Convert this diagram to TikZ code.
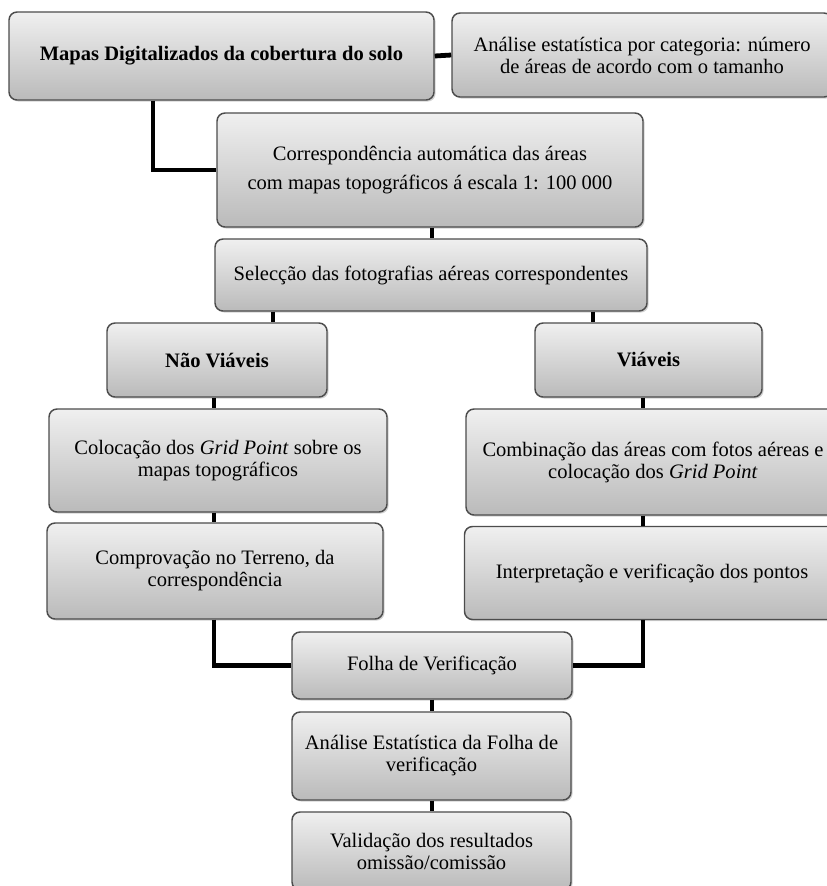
\documentclass[tikz,border=0pt]{standalone}
\usepackage{fontspec}
\setmainfont{Liberation Serif}
\usetikzlibrary{shadows}
\tikzset{
  box/.style={draw=black!70, line width=1.1pt, rounded corners=6pt,
    top color=black!6, bottom color=black!27, align=center, inner sep=2pt,
    drop shadow={opacity=0.35, shadow xshift=1.2pt, shadow yshift=-1.2pt}},
  sz/.style 2 args={minimum width=#1*0.75pt, minimum height=#2*0.75pt},
  link/.style={line width=3.6pt}
}

\begin{document}
\begin{tikzpicture}[x=0.75pt, y=-0.75pt, font=\fontsize{15.4}{16.5}\selectfont]
    \useasboundingbox (0,0) rectangle (826,886);

    % Top row
    \node[box, sz={425}{88}] (mapas) at (221.5,56) {\textbf{Mapas Digitalizados da cobertura do solo}};
    \node[box, sz={380}{84}] (analise) at (642,55)
      {Análise estatística por categoria: número\\de áreas de acordo com o tamanho};

    % Middle trunk
    \node[box, sz={426}{114}] (corresp) at (430,170)
      {Correspondência automática das áreas\\[5pt]com mapas topográficos á escala 1: 100 000};
    \node[box, sz={432}{72}] (seleccao) at (431,275) {Selecção das fotografias aéreas correspondentes};

    % Left branch
    \node[box, sz={220}{74}] (naoviaveis) at (217,360) {\textbf{Não Viáveis}};
    \node[box, sz={338}{103}] (colocacao) at (218,460.5)
      {Colocação dos \textit{Grid Point} sobre os\\mapas topográficos};
    \node[box, sz={336}{96}] (comprovacao) at (215,571)
      {Comprovação no Terreno, da\\correspondência};

    % Right branch
    \node[box, sz={227}{74}] (viaveis) at (648.5,360) {\textbf{Viáveis}};
    \node[box, sz={374}{106}] (combinacao) at (653,462)
      {Combinação das áreas com fotos aéreas e\\colocação dos \textit{Grid Point}};
    \node[box, sz={375}{93}] (interpretacao) at (652,573)
      {Interpretação e verificação dos pontos};

    % Bottom trunk
    \node[box, sz={280}{67}] (folha) at (432,665.5) {Folha de Verificação};
    \node[box, sz={279}{88}] (analiseest) at (431.5,756)
      {Análise Estatística da Folha de\\verificação};
    \node[box, sz={279}{78}] (validacao) at (431.5,851)
      {Validação dos resultados\\omissão/comissão};

    % Columns of the connectors
    \coordinate (cA) at (153,0);
    \coordinate (cM) at (432,0);
    \coordinate (cL) at (214,0);
    \coordinate (cR) at (643,0);
    \coordinate (cNL) at (273,0);
    \coordinate (cNR) at (593,0);

    % Connectors
    \draw[link] (mapas.east) -- (analise.west);
    \draw[link] (mapas.south -| cA) |- (corresp.west);
    \draw[link] (corresp.south -| cM) -- (seleccao.north -| cM);
    \draw[link] (seleccao.south -| cNL) -- (naoviaveis.north -| cNL);
    \draw[link] (seleccao.south -| cNR) -- (viaveis.north -| cNR);
    \draw[link] (naoviaveis.south -| cL) -- (colocacao.north -| cL);
    \draw[link] (colocacao.south -| cL) -- (comprovacao.north -| cL);
    \draw[link] (viaveis.south -| cR) -- (combinacao.north -| cR);
    \draw[link] (combinacao.south -| cR) -- (interpretacao.north -| cR);
    \draw[link] (comprovacao.south -| cL) |- (folha.west);
    \draw[link] (interpretacao.south -| cR) |- (folha.east);
    \draw[link] (folha.south -| cM) -- (analiseest.north -| cM);
    \draw[link] (analiseest.south -| cM) -- (validacao.north -| cM);
\end{tikzpicture}
\end{document}
